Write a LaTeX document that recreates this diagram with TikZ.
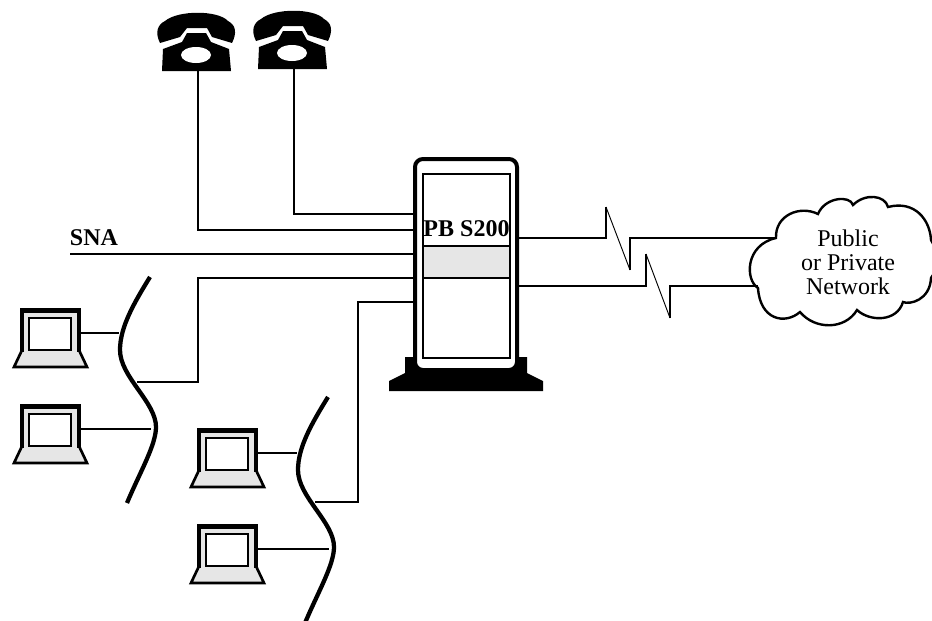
\documentclass[tikz,border=0pt]{standalone}
\usepackage{fontspec}
\setmainfont{Liberation Serif}
\definecolor{panelgray}{HTML}{E6E6E6}
\tikzset{
  wire/.style={line width=1.1pt},
  slash/.style={line width=0.7pt},
  rack/.style={draw,line width=3pt,fill=white,rounded corners=6pt,inner sep=0pt,outer sep=0pt,minimum width=76.5pt,minimum height=158.25pt},
  panel/.style={draw,line width=1.2pt,inner sep=0pt,outer sep=0pt,minimum width=65.25pt},
  tag/.style={inner sep=0pt,font=\fontsize{18}{18}\selectfont},
  phone/.pic={
    \fill (-38,-28) .. controls (-43,-38) and (-41,-46) .. (-33,-50) .. controls (-20,-61) and (20,-61) .. (30,-50) .. controls (38,-46) and (39,-38) .. (34,-28)
       -- (14,-34) -- (9,-43) -- (-11,-43) -- (-18,-34) -- cycle; % handset
    \fill (-35,-22) -- (-16,-29) -- (-11,-38) -- (8,-38) -- (13,-29) -- (31,-22) -- (33,0) -- (-36,0) -- cycle;
    \fill[white] (-2,-16) ellipse [x radius=15,y radius=8];
    \coordinate (-jack) at (0,0);
  },
  laptop/.pic={
    \draw[line width=2pt,fill=panelgray] (3,40) -- (-6,59) -- (67,59) -- (58,40) -- cycle;
    \fill[panelgray] (3,3) rectangle (58,42);
    \draw[line width=3.4pt] (2,44) -- (2,2.5) -- (59,2.5) -- (59,44);
    \draw[line width=1.2pt,fill=white] (9,10) rectangle (51,42);
    \coordinate (-port) at (61,25);
  },
  lanbus/.pic={
    \draw[line width=3.2pt] (0,0) .. controls (-16,26) and (-30,50) .. (-30,73) .. controls (-30,100) and (6,125) .. (6,150) .. controls (6,168) and (-10,195) .. (-23,226);
    \coordinate (-upper) at (-31,56);
    \coordinate (-hub) at (-13,105);
    \coordinate (-lower) at (1,152);
  },
}
\begin{document}
\begin{tikzpicture}[x=0.75pt,y=-0.75pt]
  \useasboundingbox (0,0) rectangle (932,621);
  % Rack
  \fill (405,357) -- (527,357) -- (527,373) -- (543,381) -- (543,391) -- (389,391) -- (389,381) -- (405,373) -- cycle;
  \node[rack] (chassis) at (466,264.5) {};
  \node[panel,minimum height=138pt] (frontpanel) at (466.5,266) {};
  \node[panel,minimum height=24pt,fill=panelgray] (band) at (466.5,262) {};
  \node[tag,font=\fontsize{18}{18}\selectfont\bfseries] (rackname) at (466.5,229) {PB S200};
  \coordinate (porta) at (414,214);
  \coordinate (portb) at (414,230);
  \coordinate (portc) at (414,254);
  \coordinate (portd) at (414,278);
  \coordinate (porte) at (414,302);
  \coordinate (portf) at (519,238);
  \coordinate (portg) at (519,286);
  % Phones
  \pic (phonea) at (198,71) {phone};
  \pic (phoneb) at (294,69) {phone};
  \draw[wire] (phonea-jack) |- (portb);
  \draw[wire] (phoneb-jack) |- (porta);
  % SNA line
  \node[tag,font=\fontsize{18}{18}\selectfont\bfseries] (snaname) at (94,238) {SNA};
  \coordinate (snaend) at (70,254);
  \draw[wire] (snaend) -- (portc);
  % LANs
  \pic (busa) at (150,277) {lanbus};
  \pic (busb) at (328,397) {lanbus};
  \pic (lapa) at (20,308) {laptop};
  \pic (lapb) at (20,404) {laptop};
  \pic (lapc) at (197,428) {laptop};
  \pic (lapd) at (197,524) {laptop};
  \draw[wire] (lapa-port) -- (busa-upper);
  \draw[wire] (lapb-port) -- (busa-lower);
  \draw[wire] (lapc-port) -- (busb-upper);
  \draw[wire] (lapd-port) -- (busb-lower);
  \draw[wire] (busa-hub) -| (198,278) -- (portd);
  \draw[wire] (busb-hub) -| (358,302) -- (porte);
  % Cloud
  \draw[line width=1.8pt] (776,238) .. controls (775,215) and (800,205) .. (818,214)
     .. controls (825,197) and (850,195) .. (853,205)
     .. controls (865,193) and (885,195) .. (888,207)
     .. controls (915,200) and (930,220) .. (931,240)
     .. controls (938,250) and (938,270) .. (931,278)
     .. controls (930,300) and (910,305) .. (903,302)
     .. controls (897,322) and (870,322) .. (857,310)
     .. controls (845,330) and (815,330) .. (800,312)
     .. controls (785,325) and (760,320) .. (758,288)
     .. controls (745,280) and (745,245) .. cycle;
  \node[tag,align=center] (cloudname) at (848,262) {Public\\or Private\\Network};
  \coordinate (clouda) at (776,238);
  \coordinate (cloudb) at (758,286);
  % Links with a break
  \draw[wire] (portf) -- ++(87,0) -- ++(0,-31) coordinate (peaka);
  \draw[slash] (peaka) -- ++(24,63) coordinate (dipa);
  \draw[wire] (dipa) -- ++(0,-32) -- (clouda);
  \draw[wire] (portg) -- ++(127,0) -- ++(0,-32) coordinate (peakb);
  \draw[slash] (peakb) -- ++(24,64) coordinate (dipb);
  \draw[wire] (dipb) -- ++(0,-32) -- (cloudb);
\end{tikzpicture}
\end{document}
